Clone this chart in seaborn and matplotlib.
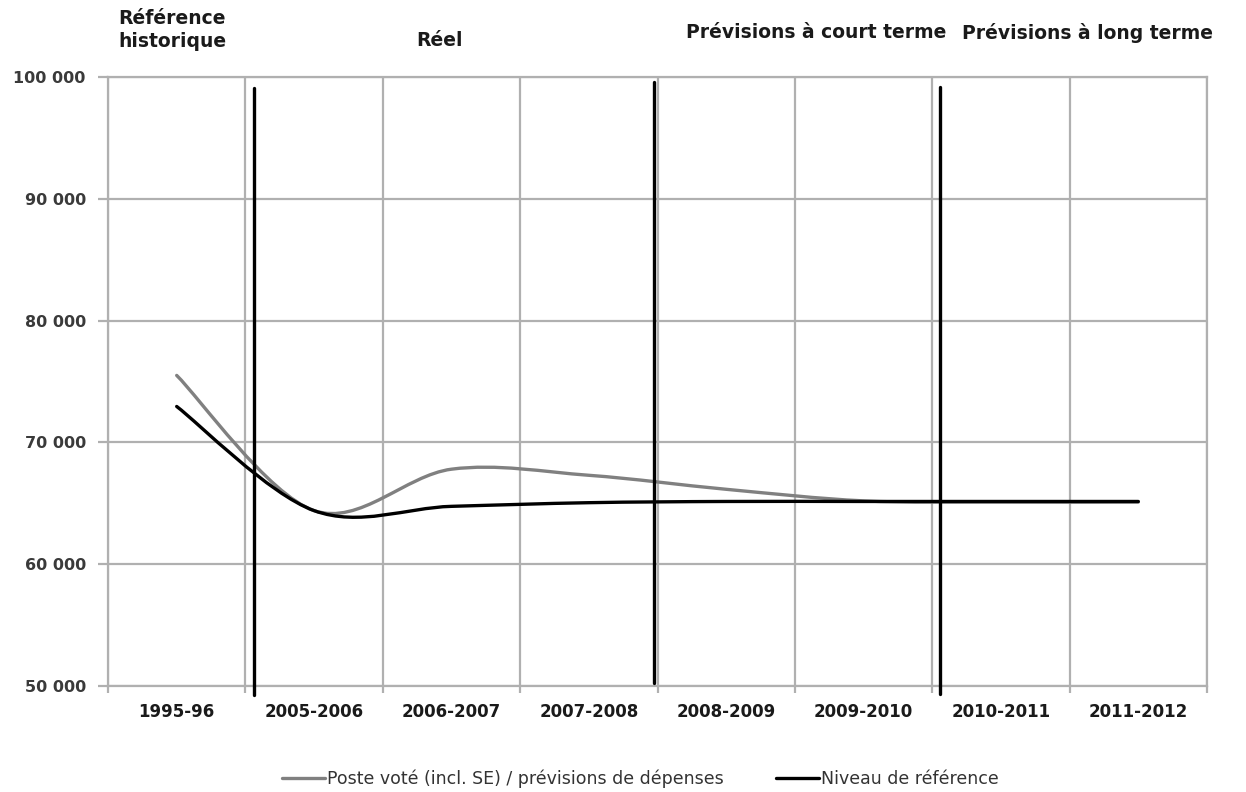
import matplotlib
matplotlib.use("Agg")
import matplotlib.pyplot as plt
from matplotlib.path import Path
from matplotlib.patches import PathPatch
from matplotlib.lines import Line2D
from matplotlib.ticker import FuncFormatter, MultipleLocator
import seaborn as sns
import numpy as np
import pandas as pd

# values
years = ["1995-96", "2005-2006", "2006-2007", "2007-2008",
         "2008-2009", "2009-2010", "2010-2011", "2011-2012"]
poste_vote = [75500, 64400, 67800, 67300, 66150, 65200, 65100, 65100]
niveau_ref = [72950, 64400, 64750, 65050, 65150, 65150, 65150, 65150]

series_names = ["Poste voté (incl. SE) / prévisions de dépenses", "Niveau de référence"]
series_colors = ["#808080", "#000000"]

# the three black separators (category position, top, bottom)
sep_x = [0.563, 3.474, 5.56]
sep_top = [99100, 99590, 99180]
sep_bottom = [49260, 50250, 49340]

headers = ["Référence\nhistorique", "Réel", "Prévisions à court terme", "Prévisions à long terme"]

df = pd.DataFrame({
    "pos": list(range(len(years))) * 2,
    "value": poste_vote + niveau_ref,
    "serie": [series_names[0]] * len(years) + [series_names[1]] * len(years),
})


def smooth_path(xs, ys):
    # excel-like smoothed line: catmull-rom segments as cubic beziers
    pts = np.column_stack([xs, ys]).astype(float)
    n = len(pts)
    verts = [pts[0]]
    codes = [Path.MOVETO]
    for i in range(n - 1):
        p0 = pts[max(i - 1, 0)]
        p1 = pts[i]
        p2 = pts[i + 1]
        p3 = pts[min(i + 2, n - 1)]
        verts += [p1 + (p2 - p0) / 6, p2 - (p3 - p1) / 6, p2]
        codes += [Path.CURVE4] * 3
    return Path(verts, codes)


sns.set_theme(style="white")
plt.rcParams['font.family'] = ['DejaVu Sans']

fig = plt.figure(figsize=(12.46, 7.92), dpi=100)
ax = fig.add_axes([108 / 1246, 1 - 686 / 792, (1207 - 108) / 1246, (686 - 77) / 792])

# seaborn registers the data on the axes, curves are drawn smoothed below
sns.lineplot(data=df, x="pos", y="value", hue="serie", palette=series_colors,
             linewidth=0, legend=False, ax=ax)

for name, color in zip(series_names, series_colors):
    sub = df[df["serie"] == name]
    patch = PathPatch(smooth_path(sub["pos"], sub["value"]), fill=False,
                      edgecolor=color, lw=2.4, capstyle="round", zorder=3)
    ax.add_patch(patch)

for x, y1, y0 in zip(sep_x, sep_top, sep_bottom):
    ax.plot([x, x], [y0, y1], color="black", lw=2.4, clip_on=False, zorder=4)

ax.set_xlim(-0.5, len(years) - 0.5)
ax.set_ylim(50000, 100000)
ax.yaxis.set_major_locator(MultipleLocator(10000))
ax.yaxis.set_major_formatter(FuncFormatter(lambda v, p: f"{int(v):,}".replace(",", " ")))
ax.set_xticks(range(len(years)))
ax.set_xticklabels(years)
ax.set_xticks(np.arange(-0.5, len(years), 1), minor=True)

ax.grid(False)
ax.grid(True, which="major", axis="y", color="#b0b0b0", lw=1.6)
ax.grid(True, which="minor", axis="x", color="#b0b0b0", lw=1.6)
for s in ax.spines.values():
    s.set_color("#b0b0b0")
    s.set_linewidth(1.6)

ax.tick_params(axis="y", which="major", length=7, width=1.6, color="#b0b0b0",
               left=True, labelsize=11.5, labelcolor="#3a3a3a", pad=9)
ax.tick_params(axis="x", which="major", length=0, labelsize=12, pad=12, labelcolor="#1a1a1a")
ax.tick_params(axis="x", which="minor", length=5, width=1.6, color="#b0b0b0", bottom=True)
for lab in ax.get_yticklabels() + ax.get_xticklabels():
    lab.set_fontweight("bold")
ax.set_xlabel("")
ax.set_ylabel("")

hdr_kw = dict(fontsize=13.5, fontweight="bold", color="#1a1a1a", va="center", ha="left",
              multialignment="left")
fig.text(118 / 1246, 1 - 30 / 792, headers[0], linespacing=1.3, **hdr_kw)
fig.text(416 / 1246, 1 - 40 / 792, headers[1], **hdr_kw)
fig.text(686 / 1246, 1 - 33 / 792, headers[2], **hdr_kw)
fig.text(962 / 1246, 1 - 33 / 792, headers[3], **hdr_kw)

handles = [Line2D([0], [0], color=c, lw=2.4) for c in series_colors]
fig.legend(handles, series_names, loc="center", bbox_to_anchor=(640 / 1246, 13 / 792),
           ncol=2, frameon=False, fontsize=12.5, handlelength=2.5, handletextpad=0.1,
           columnspacing=3.0, labelcolor="#333333", borderpad=0)

fig.savefig("out.png", dpi=100)
plt.close(fig)
